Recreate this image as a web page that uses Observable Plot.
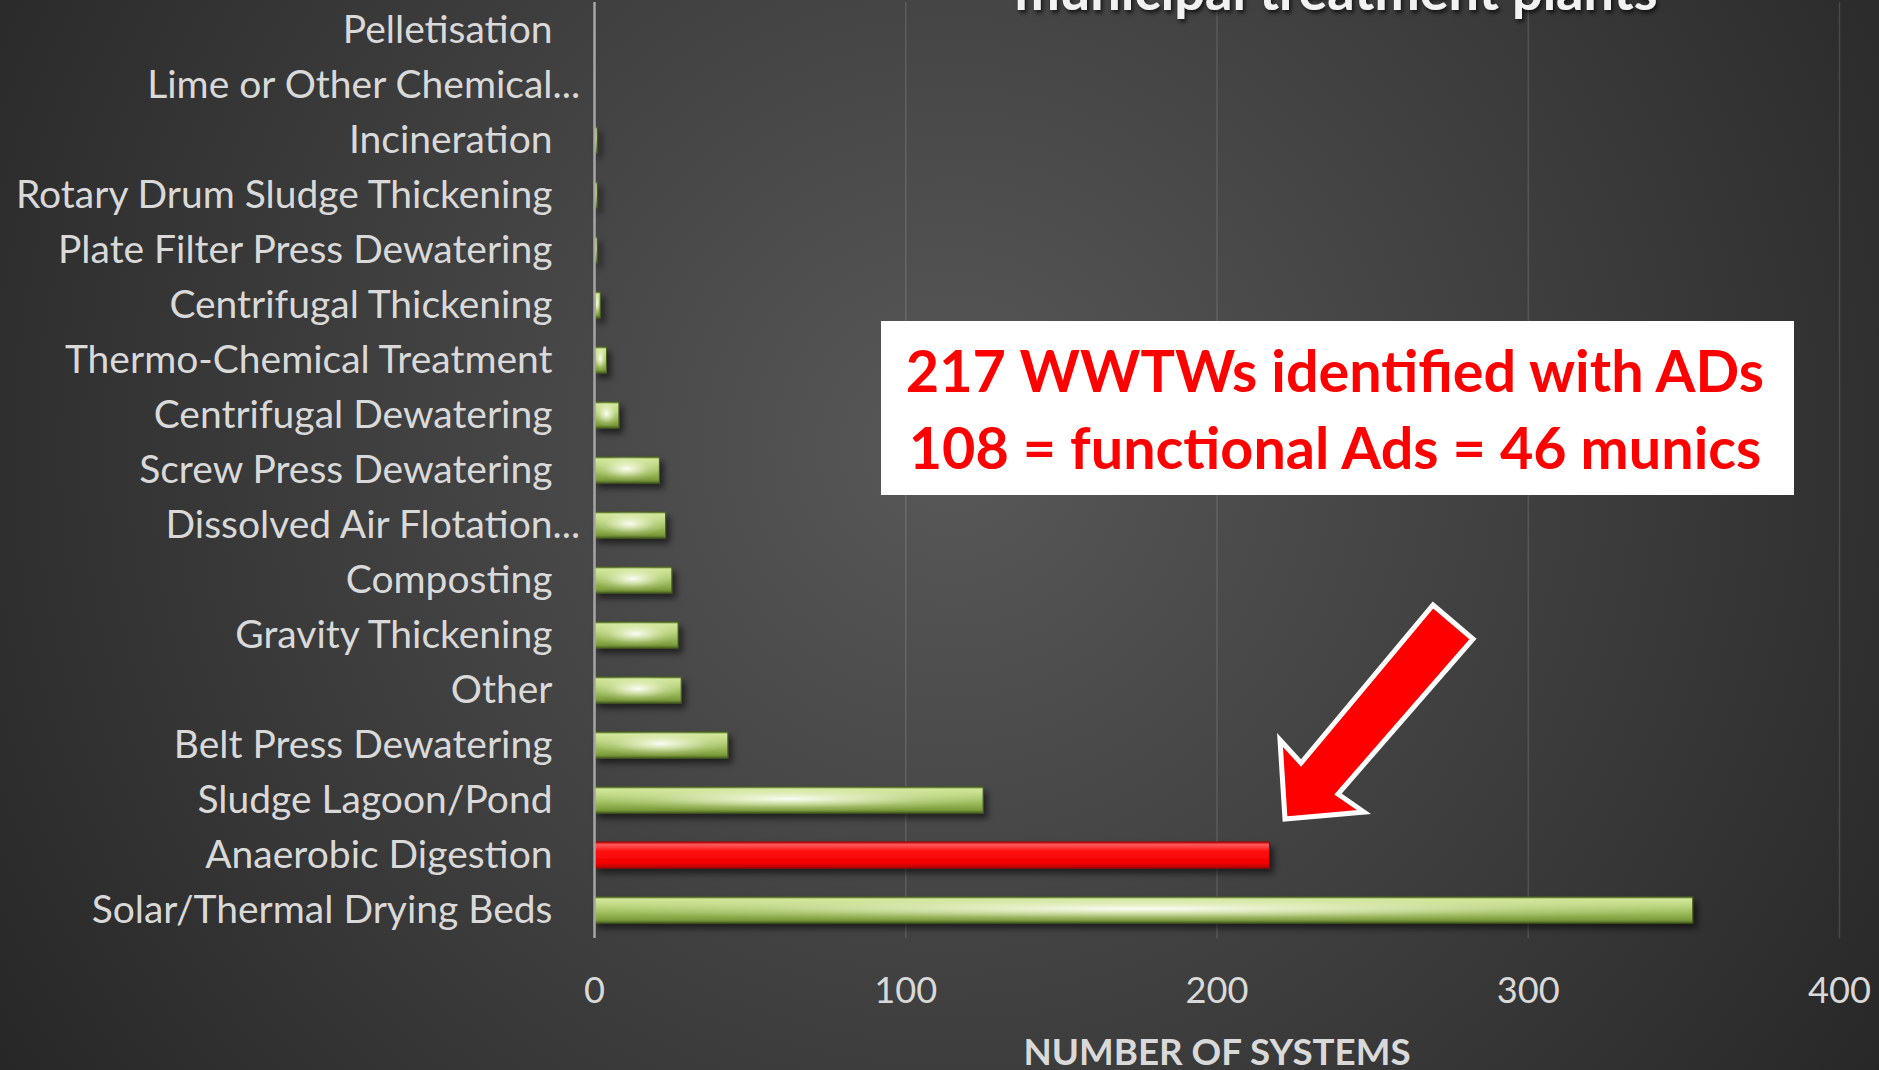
<!DOCTYPE html>
<html><head><meta charset="utf-8">
<script src="https://cdn.jsdelivr.net/npm/d3@7"></script>
<script src="https://cdn.jsdelivr.net/npm/@observablehq/plot@0.6"></script>
<style>
html,body{margin:0;padding:0;}
body{width:1879px;height:1070px;overflow:hidden;background:radial-gradient(circle 1150px at 950px 450px,#585858 0%,#262626 100%);}
#chart{position:relative;width:1879px;height:1070px;}
</style></head><body><div id="chart"></div>
<script>
// ---- data (top to bottom as shown) ----
const categories = [
  "Pelletisation",
  "Lime or Other Chemical...",
  "Incineration",
  "Rotary Drum Sludge Thickening",
  "Plate Filter Press Dewatering",
  "Centrifugal Thickening",
  "Thermo-Chemical Treatment",
  "Centrifugal Dewatering",
  "Screw Press Dewatering",
  "Dissolved Air Flotation...",
  "Composting",
  "Gravity Thickening",
  "Other",
  "Belt Press Dewatering",
  "Sludge Lagoon/Pond",
  "Anaerobic Digestion",
  "Solar/Thermal Drying Beds"
];
const values = [0, 0, 1, 1, 1, 2, 4, 8, 21, 23, 25, 27, 28, 43, 125, 217, 353];
const highlighted = ["Anaerobic Digestion"];
const xTicks = [0, 100, 200, 300, 400];
const xLabel = "NUMBER OF SYSTEMS";
const titleText = "municipal treatment plants";
const noteLines = ["217 WWTWs identified with ADs", "108 = functional Ads = 46 munics"];

// ---- build ----
const data = categories.map((c, i) => ({category: c, value: values[i]}));
const drawn = data.filter(d => d.value > 0);
const green = drawn.filter(d => !highlighted.includes(d.category));
const red = drawn.filter(d => highlighted.includes(d.category));
const truncated = categories.filter(c => c.endsWith("..."));

const FAMILY = "Lato, 'Open Sans', sans-serif";
const ctx = document.createElement("canvas").getContext("2d");
function fit(text, weight, target) {
  ctx.font = `${weight} 100px Lato`;
  return 100 * target / ctx.measureText(text).width;
}
const labelFont = fit("Solar/Thermal Drying Beds", 400, 461);
const tickFont = fit("400", 400, 63);
const axisTitleFont = fit(xLabel, 700, 388);
const noteFont = fit(noteLines[0], 700, 862);
const titleFont = fit(titleText, 700, 643);
const textColor = "#d9d9d9";

const plot = Plot.plot({
  width: 1879, height: 1070,
  marginLeft: 594, marginRight: 40, marginTop: 2, marginBottom: 132,
  style: {background: "transparent", fontFamily: FAMILY, color: textColor, overflow: "visible"},
  x: {domain: [0, 400]},
  y: {domain: categories, paddingInner: 0.52, paddingOuter: 0.24},
  marks: [
    Plot.gridX(xTicks.filter(t => t > 0), {stroke: "#ffffff", strokeOpacity: 0.13, strokeWidth: 1.5}),
    Plot.barX(green, {x: "value", y: "category", fill: "url(#gGreen)", stroke: "#4a6020", strokeWidth: 1}),
    Plot.barX(red, {x: "value", y: "category", fill: "url(#gRed)", stroke: "#a80000", strokeWidth: 1}),
    Plot.barX(green, {x: "value", y: "category", fill: "url(#gGlow)"}),
    Plot.ruleX([0], {stroke: "#a6a6a6", strokeWidth: 2.5}),
    Plot.axisX({ticks: xTicks, tickSize: 0, tickPadding: 39, fontSize: tickFont, label: null, fill: textColor}),
    Plot.axisY({tickSize: 0, tickPadding: 42, fontSize: labelFont, label: null, fill: textColor,
                tickFormat: d => d.replace(/\.\.\.$/, "")}),
    Plot.text(truncated, {y: d => d, x: () => 0, text: () => "...", textAnchor: "start", dx: -42,
                          fontSize: labelFont, fill: textColor}),
    Plot.text([xLabel], {frameAnchor: "bottom", text: d => d, lineAnchor: "top", dy: 100,
                         fontWeight: "bold", fontSize: axisTitleFont, fill: textColor})
  ]
});

const svg = d3.select(plot);
svg.insert("defs", ":first-child").html(`
  <linearGradient id="gGreen" x1="0" y1="0" x2="0" y2="1">
    <stop offset="0" stop-color="#5f7d2a"/>
    <stop offset="0.08" stop-color="#d2e79a"/>
    <stop offset="0.3" stop-color="#c0d985"/>
    <stop offset="0.6" stop-color="#9ebe5e"/>
    <stop offset="0.88" stop-color="#7d9c3c"/>
    <stop offset="1" stop-color="#4e6a22"/>
  </linearGradient>
  <radialGradient id="gGlow" cx="0.5" cy="0.45" r="0.5">
    <stop offset="0" stop-color="#ffffff" stop-opacity="0.95"/>
    <stop offset="0.3" stop-color="#ffffee" stop-opacity="0.6"/>
    <stop offset="0.7" stop-color="#ffffee" stop-opacity="0.15"/>
    <stop offset="1" stop-color="#ffffff" stop-opacity="0"/>
  </radialGradient>
  <linearGradient id="gRed" x1="0" y1="0" x2="0" y2="1">
    <stop offset="0" stop-color="#c00000"/>
    <stop offset="0.1" stop-color="#ff5a5a"/>
    <stop offset="0.35" stop-color="#ff1212"/>
    <stop offset="0.8" stop-color="#f50000"/>
    <stop offset="1" stop-color="#b00000"/>
  </linearGradient>
  <filter id="shadow" x="-10%" y="-60%" width="130%" height="260%">
    <feDropShadow dx="4" dy="5" stdDeviation="3" flood-color="#000" flood-opacity="0.55"/>
  </filter>
  <filter id="tshadow" x="-5%" y="-50%" width="110%" height="200%">
    <feDropShadow dx="2" dy="3" stdDeviation="2" flood-color="#000" flood-opacity="0.7"/>
  </filter>
`);
const barGroups = svg.selectAll("g[aria-label='bar']").nodes();
if (barGroups[0]) d3.select(barGroups[0]).attr("filter", "url(#shadow)");
if (barGroups[1]) d3.select(barGroups[1]).attr("filter", "url(#shadow)");

// ---- annotations ----
const ann = svg.append("g");
// clipped chart title at the top
ann.append("text").attr("x", 1336).attr("y", 10).attr("text-anchor", "middle")
  .attr("font-family", FAMILY).attr("font-weight", "bold").attr("font-size", titleFont)
  .attr("fill", "#f2f2f2").attr("filter", "url(#tshadow)").text(titleText);
// note box
ann.append("rect").attr("x", 881).attr("y", 321).attr("width", 913).attr("height", 174).attr("fill", "#ffffff");
noteLines.forEach((t, i) => {
  ann.append("text").attr("x", 1335).attr("y", 392 + i * 77).attr("text-anchor", "middle")
    .attr("font-family", FAMILY).attr("font-weight", "bold").attr("font-size", noteFont)
    .attr("fill", "#ff0000").text(t);
});
// block arrow pointing at the highlighted bar
const arrowPts = [[1433,605],[1473,639],[1338,794],[1364,812],[1285,819],[1280,740],[1301,763]];
ann.append("polygon").attr("points", arrowPts.map(p => p.join(",")).join(" "))
  .attr("fill", "#ff0000").attr("stroke", "#ffffff").attr("stroke-width", 5).attr("stroke-linejoin", "miter");

document.getElementById("chart").appendChild(plot);
</script>
</body></html>
